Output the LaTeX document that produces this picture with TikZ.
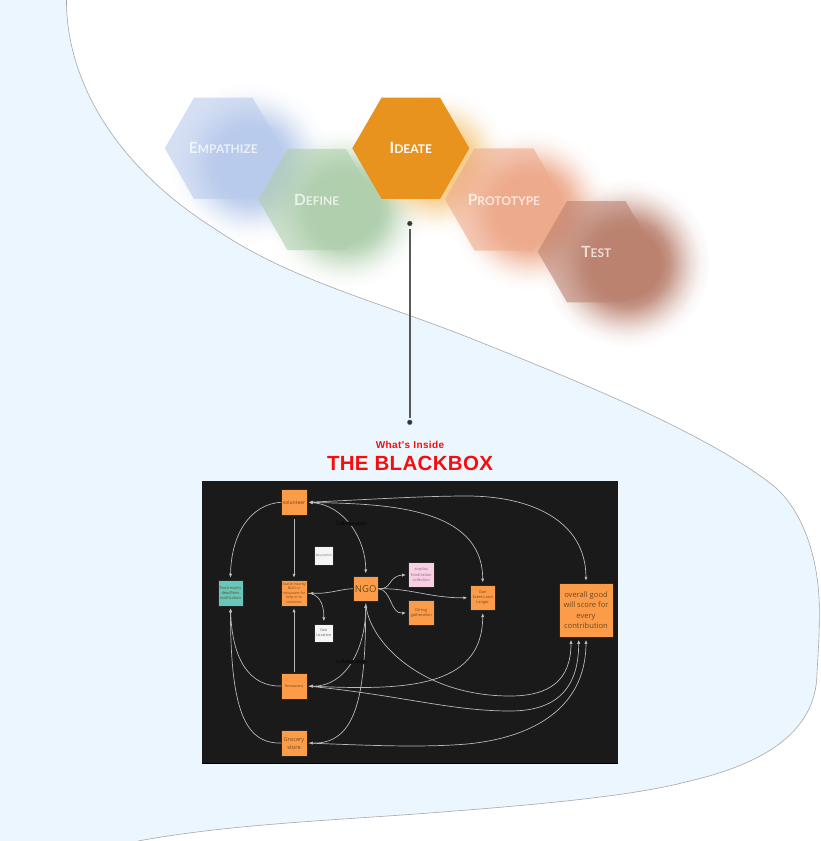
\documentclass[tikz,border=0pt]{standalone}
\usepackage{fontspec}
\setmainfont{Open Sans}
\newfontfamily\hexfont{Lato}[BoldFont=Lato Bold]
\newfontfamily\titlefont{Liberation Sans}[LetterSpace=4]
\newfontfamily\titlefontb{Liberation Sans}[LetterSpace=1.5]
\usetikzlibrary{arrows.meta,shapes.geometric,fadings,positioning}
\pgfdeclareradialshading{blobshade}{\pgfpointorigin}{color(0bp)=(pgftransparent!0); color(10bp)=(pgftransparent!0); color(13bp)=(pgftransparent!15); color(16bp)=(pgftransparent!45); color(19bp)=(pgftransparent!72); color(22bp)=(pgftransparent!92); color(25bp)=(pgftransparent!100); color(50bp)=(pgftransparent!100)}
\pgfdeclarefading{blobfade}{\pgfuseshading{blobshade}}
\definecolor{pale}{HTML}{EBF6FF}
\definecolor{edgegrey}{HTML}{A8A8A8}
\definecolor{board}{HTML}{1A1A1A}
\definecolor{orangebox}{HTML}{FD9C48}
\definecolor{tealbox}{HTML}{66C7BC}
\definecolor{pinkbox}{HTML}{FBCFE3}
\definecolor{whitebox}{HTML}{F5F5F5}
\definecolor{boxtext}{HTML}{6A4A22}
\definecolor{cEmp}{RGB}{185,203,236}
\definecolor{cDef}{RGB}{175,207,173}
\definecolor{cIde}{RGB}{232,147,30}
\definecolor{cIdeB}{RGB}{245,205,140}
\definecolor{cPro}{RGB}{238,170,140}
\definecolor{cTes}{RGB}{187,130,112}
\definecolor{titlered}{HTML}{F60D0D}
\newcommand{\capsl}[2]{{\fontsize{15.5}{16}\selectfont #1}{\fontsize{12}{16}\selectfont #2}}
\tikzset{
  hexa/.style={regular polygon,regular polygon sides=6,minimum size=117pt,inner sep=0pt,outer sep=0pt,
    fill=#1,fill opacity=.6,text=white,text opacity=.72,font=\hexfont\bfseries},
  blob/.style={fill=#1,path fading=blobfade},
  box/.style={draw=black!85,line width=.5pt,inner sep=0pt,outer sep=0pt,align=center,text=boxtext,
    minimum width=25.5pt,minimum height=25.5pt,fill=orangebox},
  conn/.style={draw=white!72!black,line width=.7pt,-{Latex[length=4pt,width=3.2pt,fill=white]},shorten >=2.5pt},
  both/.style={conn,{Latex[length=4pt,width=3.2pt,fill=white]}-{Latex[length=4pt,width=3.2pt,fill=white]},shorten <=2pt},
  lbl/.style={font=\fontsize{5}{6}\selectfont,text=black,fill=board,inner sep=.5pt},
  pin/.style={circle,fill=black!80,draw=black!60,line width=.4pt,minimum size=4.8pt,inner sep=0pt}
}
\begin{document}
\begin{tikzpicture}[x=1pt,y=-1pt]
\useasboundingbox (0,0) rectangle (820,841);
\fill[white] (0,0) rectangle (820,841);
% pale region
\fill[pale] (0,0) -- (66.5,0) .. controls (66,70) and (105,160) .. (216.7,230) .. controls (290,280) and (380,302) .. (475,340) .. controls (570,378) and (700,430) .. (770,483) .. controls (800,505) and (820,555) .. (819.3,613) .. controls (819.5,640) and (817.5,660) .. (816.7,680) .. controls (812,735) and (760,765) .. (686.7,781.7) .. controls (630,797) and (520,806) .. (433,812.7) .. controls (340,820) and (230,824) .. (138,841) -- (0,841) -- cycle;
\draw[edgegrey,line width=.6pt] (66.5,0) .. controls (66,70) and (105,160) .. (216.7,230) .. controls (290,280) and (380,302) .. (475,340) .. controls (570,378) and (700,430) .. (770,483) .. controls (800,505) and (820,555) .. (819.3,613) .. controls (819.5,640) and (817.5,660) .. (816.7,680) .. controls (812,735) and (760,765) .. (686.7,781.7) .. controls (630,797) and (520,806) .. (433,812.7) .. controls (340,820) and (230,824) .. (138,841);
% blurred blobs
\fill[blob=cEmp] (250,163) circle (80pt);
\fill[blob=cDef] (345,208) circle (80pt);
\fill[blob=cIdeB] (437,163) circle (72pt);
\fill[blob=cPro] (530,210) circle (80pt);
\fill[blob=cTes] (626,263) circle (84pt);
% hexagons
\node[hexa=cEmp] (empathize) at (223.3,148.3) {\capsl{E}{MPATHIZE}};
\node[hexa=cDef] (define) at (316.7,199.5) {\capsl{D}{EFINE}};
\node[hexa=cIde,fill opacity=1,text opacity=1] (ideate) at (410.8,148.3) {\capsl{I}{DEATE}};
\node[hexa=cPro] (prototype) at (504,199.5) {\capsl{P}{ROTOTYPE}};
\node[hexa=cTes] (test) at (596.3,251.7) {\capsl{T}{EST}};
% connector between pins
\node[pin] (pinA) at (409.8,223.5) {};
\node[pin] (pinB) at (409.8,422.3) {};
\draw[black!65,line width=1.7pt,shorten <=3pt,shorten >=2pt] (pinA) -- (pinB);
% title
\node[text=titlered,font=\titlefont\bfseries\fontsize{10}{12}\selectfont,inner sep=0pt] (subtitle) at (410,445) {What's Inside};
\node[text=titlered,font=\titlefontb\bfseries\fontsize{20.5}{24}\selectfont,inner sep=0pt] (title) at (410,463) {THE BLACKBOX};
% board
\fill[board] (202,481) rectangle (618,763);
\draw[black,line width=.7pt] (202,763) -- (618,763);
% boxes
\node[box,font=\fontsize{5}{6}\selectfont] (volunteer) at (294,502.3) {volunteer};
\node[box,font=\fontsize{3.5}{4.6}\selectfont] (search) at (294,593) {Search nearby\\NGO or\\restaurant for\\help or to\\volunteer};
\node[box,fill=tealbox,font=\fontsize{4}{5.3}\selectfont] (food) at (230.5,593) {Food expiry\\deadlines\\notification};
\node[box,font=\fontsize{9.5}{12}\selectfont] (ngo) at (365.7,588.7) {NGO};
\node[box,fill=whitebox,minimum width=18.3pt,minimum height=18.7pt,font=\fontsize{3}{4}\selectfont,text=black!60] (description) at (323.8,555.5) {Description};
\node[box,fill=whitebox,minimum width=18.3pt,minimum height=18.5pt,font=\fontsize{3.8}{5}\selectfont,text=black!60] (geo) at (323.8,633) {Geo\\Location};
\node[box,fill=pinkbox,font=\fontsize{3.9}{5.2}\selectfont,text=black!55] (surplus) at (421.3,574.7) {surplus\\food/ration\\collection};
\node[box,font=\fontsize{3.9}{5.2}\selectfont] (dining) at (421.3,612.7) {Dining\\gatheration};
\node[box,font=\fontsize{3.9}{5.2}\selectfont] (dan) at (482.7,597.8) {Dan\\Events and\\Langer};
\node[box,minimum width=54pt,minimum height=54pt,font=\fontsize{7.6}{10.4}\selectfont] (overall) at (586,610.3) {overall good\\will score for\\every\\contribution};
\node[box,font=\fontsize{3.6}{5}\selectfont] (restaurant) at (294,686) {Restaurant};
\node[box,font=\fontsize{5.6}{8}\selectfont] (grocery) at (294,743) {Grocery\\store};
% connectors
\draw[conn,shorten <=0pt] (volunteer.west) .. controls (250,504) and (231,535) .. (food.north);
\draw[conn,shorten <=4pt] (volunteer.south) -- (search.north);
\draw[both] (volunteer.east) .. controls (345,505) and (366,540) .. (ngo.north);
\draw[both] (volunteer.east) .. controls (380,504) and (482.7,505) .. (dan.north);
\draw[both] (volunteer.east) .. controls (360,500) and (420,496) .. (467,496) .. controls (530,496) and (585.7,520) .. (overall.north);
\draw[conn,shorten <=0pt] (ngo.west) .. controls (340,589) and (330,594) .. (search.east);
\draw[conn,shorten <=1pt] (search.east) .. controls (318,594) and (324,602) .. (geo.north);
\draw[conn,shorten <=0pt] (ngo.east) .. controls (392,590) and (388,576) .. (surplus.west);
\draw[conn,shorten <=0pt] (ngo.east) .. controls (392,590) and (390,614) .. (dining.west);
\draw[conn,shorten <=0pt] (ngo.east) .. controls (410,588) and (430,598) .. (dan.west);
\draw[conn,shorten <=1pt] (restaurant.north) -- (search.south);
\draw[conn,shorten <=0pt] (restaurant.west) .. controls (250,687) and (232,660) .. (food.south);
\draw[conn,shorten <=0pt] (grocery.west) .. controls (245,744) and (230.5,710) .. (food.south);
\draw[both] (restaurant.east) .. controls (345,687) and (365.7,650) .. (ngo.south);
\draw[both] (grocery.east) .. controls (355,744) and (365.7,700) .. (ngo.south);
\draw[both] (restaurant.east) .. controls (400,690) and (482.7,690) .. (dan.south);
\draw[conn,shorten <=2pt] (ngo.south) .. controls (368,640) and (420,696) .. (510,696) .. controls (550,696) and (571,680) .. ([xshift=-15pt]overall.south);
\draw[conn,shorten <=2pt] (restaurant.east) .. controls (400,695) and (450,711) .. (510,711) .. controls (555,711) and (578.7,690) .. ([xshift=-7.3pt]overall.south);
\draw[conn,shorten <=2pt] (grocery.east) .. controls (360,745) and (420,748) .. (467,744) .. controls (530,738) and (585.7,710) .. (overall.south);
% labels on connectors
\node[lbl] (collabA) at (351.3,524) {Collaboration};
\node[lbl] (collabB) at (351.7,662) {collaboration};
\end{tikzpicture}
\end{document}
